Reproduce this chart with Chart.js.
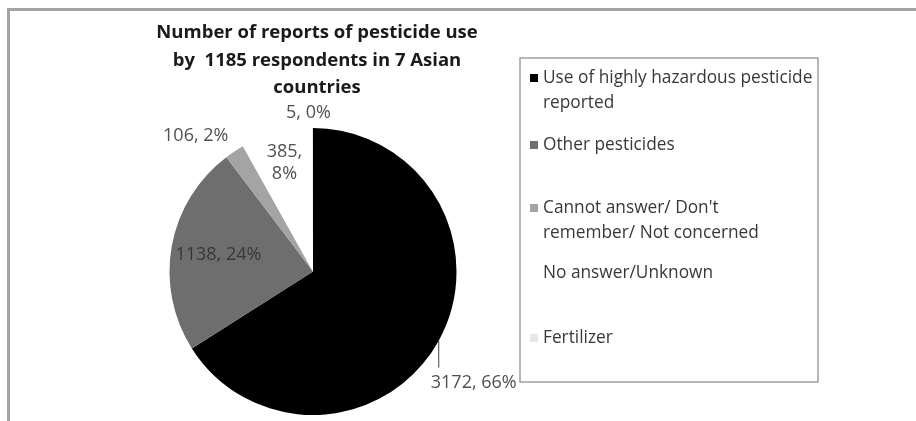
<!DOCTYPE html>
<html>
<head>
<meta charset="utf-8">
<script src="https://cdn.jsdelivr.net/npm/chart.js@4.4.1/dist/chart.umd.min.js"></script>
<style>
  html, body { margin: 0; padding: 0; background: #fff; }
  #wrap { position: relative; width: 916px; height: 421px; overflow: hidden; }
  #frame { position: absolute; left: 7px; top: 8px; right: -10px; bottom: -10px;
           border-top: 3px solid #a3a3a3; border-left: 3px solid #a3a3a3; }
  canvas { position: absolute; left: 0; top: 0; }
</style>
</head>
<body>
<div id="wrap">
  <div id="frame"></div>
  <canvas id="c" width="916" height="421"></canvas>
</div>
<script>
// ---- data ----
const titleLines = ["Number of reports of pesticide use", "by  1185 respondents in 7 Asian", "countries"];
const categories = [
  ["Use of highly hazardous pesticide", "reported"],
  ["Other pesticides"],
  ["Cannot answer/ Don't", "remember/ Not concerned"],
  ["No answer/Unknown"],
  ["Fertilizer"]
];
const values = [3172, 1138, 106, 385, 5];
const sliceColors = ["#000000", "#6e6e6e", "#a4a4a4", "#ffffff", "#e6e6e6"];

// ---- style / layout (not data) ----
const FONT = "'Open Sans', 'DejaVu Sans', sans-serif";
const labelStyle = [
  { mode: "leader", r: 1.0, line: 27, dx: 35, dy: 42 },
  { mode: "plain", r: 0.67, dx: 0, dy: 0 },
  { mode: "plain", r: 1.2, dx: -23, dy: 8 },
  { mode: "wrap", r: 0.78, dx: 0, dy: 0 },
  { mode: "plain", r: 1.105, dx: -4, dy: 0 }
];
const legendBox = { left: 520, top: 58, right: 818, bottom: 382 };
const legendRowY = [78, 145, 208, 273, 338];

const total = values.reduce((a, b) => a + b, 0);

const titlePlugin = {
  id: "titleDraw",
  afterDraw(chart) {
    const ctx = chart.ctx;
    const cx = (chart.chartArea.left + chart.chartArea.right) / 2;
    ctx.save();
    ctx.fillStyle = "#1a1a1a";
    ctx.font = "bold 18.5px " + FONT;
    ctx.textAlign = "center";
    ctx.textBaseline = "middle";
    const ys = [33, 61, 88];
    titleLines.forEach((t, i) => ctx.fillText(t, cx + 4, ys[i]));
    ctx.restore();
  }
};

const dataLabelPlugin = {
  id: "dataLabels",
  afterDatasetsDraw(chart) {
    const ctx = chart.ctx;
    const meta = chart.getDatasetMeta(0);
    const vals = chart.data.datasets[0].data;
    ctx.save();
    ctx.font = "18px " + FONT;
    ctx.textAlign = "center";
    ctx.textBaseline = "middle";
    meta.data.forEach((arc, i) => {
      const p = arc.getProps(["x", "y", "startAngle", "endAngle", "outerRadius"], true);
      const mid = (p.startAngle + p.endAngle) / 2;
      const st = labelStyle[i];
      const rr = p.outerRadius * st.r;
      const px = p.x + Math.cos(mid) * rr;
      const py = p.y + Math.sin(mid) * rr;
      const pct = Math.round(vals[i] / total * 100) + "%";
      const txt = vals[i] + ", " + pct;
      ctx.fillStyle = i === 1 ? "#383838" : "#505050";
      if (st.mode === "leader") {
        ctx.strokeStyle = "#404040";
        ctx.lineWidth = 1;
        ctx.beginPath();
        ctx.moveTo(px, py);
        ctx.lineTo(px, py + st.line);
        ctx.stroke();
        ctx.fillText(txt, px + st.dx, py + st.dy);
      } else if (st.mode === "wrap") {
        ctx.fillText(vals[i] + ",", px + st.dx, py + st.dy - 11);
        ctx.fillText(pct, px + st.dx, py + st.dy + 11);
      } else {
        ctx.fillText(txt, px + st.dx, py + st.dy);
      }
    });
    ctx.restore();
  }
};

const legendPlugin = {
  id: "legendDraw",
  afterDraw(chart) {
    const ctx = chart.ctx;
    const colors = chart.data.datasets[0].backgroundColor;
    ctx.save();
    ctx.strokeStyle = "#a0a0a0";
    ctx.lineWidth = 1.5;
    ctx.strokeRect(legendBox.left, legendBox.top, legendBox.right - legendBox.left, legendBox.bottom - legendBox.top);
    ctx.font = "17.3px " + FONT;
    ctx.textBaseline = "middle";
    ctx.textAlign = "left";
    chart.data.labels.forEach((lines, i) => {
      const y = legendRowY[i];
      ctx.fillStyle = colors[i];
      ctx.fillRect(legendBox.left + 10, y - 4, 8, 8);
      ctx.fillStyle = "#383838";
      lines.forEach((ln, k) => ctx.fillText(ln, legendBox.left + 23, y + k * 25));
    });
    ctx.restore();
  }
};

new Chart(document.getElementById("c"), {
  type: "pie",
  data: {
    labels: categories,
    datasets: [{
      data: values,
      backgroundColor: sliceColors,
      borderColor: "#ffffff",
      borderWidth: 0,
      hoverOffset: 0
    }]
  },
  options: {
    responsive: false,
    animation: false,
    events: [],
    layout: { padding: { top: 128, bottom: 6, left: 169.5, right: 459.5 } },
    plugins: { legend: { display: false }, title: { display: false }, tooltip: { enabled: false } }
  },
  plugins: [titlePlugin, dataLabelPlugin, legendPlugin]
});
</script>
</body>
</html>
